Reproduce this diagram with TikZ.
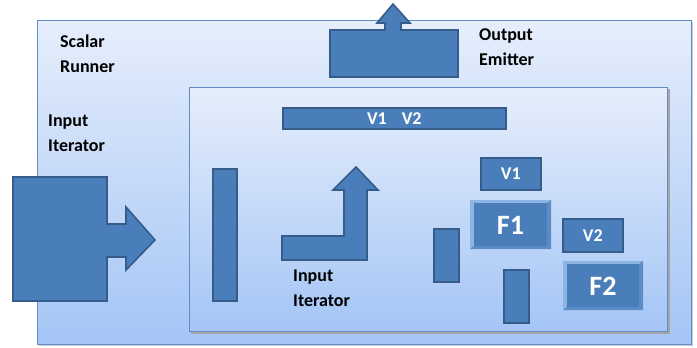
\documentclass[tikz,border=0pt]{standalone}
\usepackage{fontspec}
\setmainfont{Carlito}
\definecolor{boxblue}{RGB}{74,126,187}
\definecolor{boxedge}{RGB}{54,92,138}
\definecolor{bgtop}{RGB}{230,238,251}
\definecolor{bgbot}{RGB}{164,197,246}
\definecolor{frameline}{RGB}{96,140,200}
\definecolor{bevlight}{RGB}{140,180,228}
\definecolor{bevdark}{RGB}{92,140,198}
\begin{document}
\begin{tikzpicture}[x=1pt,y=-1pt,
  blk/.style={fill=boxblue, draw=boxedge, line width=1.6pt},
  bar/.style={blk, rectangle, inner sep=0pt, anchor=north west, text=white,
    font=\bfseries\fontsize{18}{20}\selectfont},
  lbl/.style={anchor=north west, align=left, inner sep=0pt,
    font=\bfseries\fontsize{18}{25}\selectfont},
  bigtxt/.style={text=white, font=\bfseries\fontsize{28}{30}\selectfont}]
\useasboundingbox (0,0) rectangle (697,348);
% outer box
\fill[black!20] (39,22) rectangle (693,346);
\shade[top color=bgtop, bottom color=bgbot] (37,20) rectangle (691,344);
\draw[frameline, line width=1pt] (37,20) rectangle (691,344);
% inner box
\fill[black!35] (191,89) rectangle (670,334);
\shade[top color=bgtop, bottom color=bgbot] (189,87) rectangle (667,331);
\draw[frameline, line width=1pt] (189,87) rectangle (667,331);
% output emitter
\draw[blk, line join=miter] (330,30) -- (385,30) -- (385,23) -- (377,23) -- (393,4) -- (410,23)
  -- (401,23) -- (401,30) -- (458,30) -- (458,77) -- (330,77) -- cycle;
% input iterator big arrow
\draw[blk] (13,177) -- (107,177) -- (107,224) -- (126,224) -- (126,207) -- (155,240)
  -- (126,270) -- (126,257) -- (107,257) -- (107,301) -- (13,301) -- cycle;
% bent arrow
\draw[blk] (282,236) -- (344,236) -- (344,190) -- (333,190) -- (356,167) -- (378,190)
  -- (367,190) -- (367,260) -- (282,260) -- cycle;
% bars
\node[bar, minimum width=223pt, minimum height=21pt] (v12) at (282,107) {V1\hspace{15pt}V2};
\node[bar, minimum width=24pt, minimum height=132pt] (b1) at (212,168) {};
\node[bar, minimum width=25pt, minimum height=53pt] (b2) at (433,228) {};
\node[bar, minimum width=25pt, minimum height=53pt] (b3) at (503,269) {};
\node[bar, minimum width=60pt, minimum height=32pt] (v1) at (480,157) {V1};
\node[bar, minimum width=60pt, minimum height=33pt] (v2) at (562,218) {V2};
% F1 bevel
\fill[bevlight] (470,200) rectangle (551,249);
\fill[bevdark] (470,249) -- (474,246) -- (547,246) -- (551,249) -- cycle;
\fill[bevdark] (551,200) -- (547,203) -- (547,246) -- (551,249) -- cycle;
\fill[boxblue] (474,203) rectangle (547,246);
\node[bigtxt] (f1) at (510.5,225) {F1};
% F2 bevel
\fill[bevlight] (563,261) rectangle (643,310);
\fill[bevdark] (563,310) -- (567,307) -- (639,307) -- (643,310) -- cycle;
\fill[bevdark] (643,261) -- (639,264) -- (639,307) -- (643,310) -- cycle;
\fill[boxblue] (567,264) rectangle (639,307);
\node[bigtxt] (f2) at (603,286) {F2};
% labels
\node[lbl] (sr) at (60,35) {Scalar\\Runner};
\node[lbl] (ii) at (48,115) {Input\\Iterator};
\node[lbl] (oe) at (479,28) {Output\\Emitter};
\node[lbl] (ii2) at (293,270) {Input\\Iterator};
\end{tikzpicture}
\end{document}
